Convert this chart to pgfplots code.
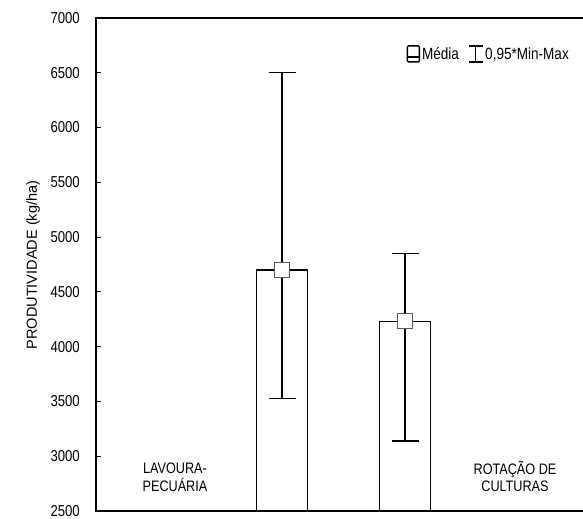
\documentclass[border=0pt]{standalone}
\usepackage{pgfplots}
\pgfplotsset{compat=1.18}
\usepackage{graphicx}
\usepackage{fontspec}
\setmainfont{Liberation Sans}
\newcommand\st[1]{\scalebox{1}[1.2]{#1}}
\begin{document}
\begin{tikzpicture}
\begin{axis}[
  scale only axis, width=492bp, height=493bp,
  xmin=0, xmax=492, ymin=2500, ymax=7000,
  axis line style={line width=1.6bp},
  ytick distance=500, xtick=\empty,
  tick align=inside, major tick length=5bp,
  tick style={line width=1bp, black},
  /pgf/number format/assume math mode=true,
  /pgf/number format/1000 sep={},
  yticklabel={\st{\pgfmathprintnumber{\tick}}},
  yticklabel style={font=\fontsize{13.2}{15}\selectfont, inner sep=0pt, xshift=-16bp},
  ylabel={PRODUTIVIDADE (kg/ha)},
  ylabel style={font=\fontsize{14.6}{16}\selectfont, at={(axis cs:-63,4745)}, anchor=center},
  legend style={at={(axis cs:475,6754)}, anchor=north east, draw=none, fill=none,
    inner sep=0pt, font=\fontsize{13.6}{15}\selectfont,
    /tikz/every even column/.append style={column sep=7bp}},
  legend columns=-1,
]
\coordinate (O) at (rel axis cs:0,0);
\addplot[forget plot, ybar, bar width=51bp, fill=white, draw=black, line width=1.3bp,
  error bars/.cd, y dir=both, y explicit,
  error bar style={line width=1.3bp},
  error mark options={rotate=90, mark size=13.5bp, line width=1.3bp}]
  coordinates {(186,4700) += (0,1800) -= (0,1170)
               (309,4230) += (0,620) -= (0,1090)};
\addplot[forget plot, only marks, mark=square*, mark size=7.5bp,
  mark options={fill=white, draw=gray!70!black, line width=1bp}]
  coordinates {(186,4700) (309,4230)};
\addlegendimage{legend image code/.code={
  \draw[line width=1.3bp, rounded corners=1bp] (0bp,-8bp) rectangle (12bp,8bp);
  \draw[line width=1.3bp] (0bp,-3bp) -- (12bp,-3bp);}}
\addlegendentry{\st{Média}}
\addlegendimage{legend image code/.code={
  \draw[line width=1.3bp] (0bp,8bp) -- (14bp,8bp) (7bp,8bp) -- (7bp,-8bp) (0bp,-8bp) -- (14bp,-8bp);}}
\addlegendentry{\st{0,95*Min-Max}}
\node[font=\fontsize{12.7}{13.8}\selectfont, inner sep=0pt] at (axis cs:79,2792)
  {\st{\begin{tabular}{@{}c@{}}LAVOURA-\\PECUÁRIA\end{tabular}}};
\node[font=\fontsize{12.7}{13.8}\selectfont, inner sep=0pt] at (axis cs:419,2792)
  {\st{\begin{tabular}{@{}c@{}}ROTAÇÃO DE\\CULTURAS\end{tabular}}};
\end{axis}
\pgfresetboundingbox
\path ([shift={(-96bp,-8bp)}]O) rectangle ++(583bp,519bp);
\end{tikzpicture}
\end{document}
